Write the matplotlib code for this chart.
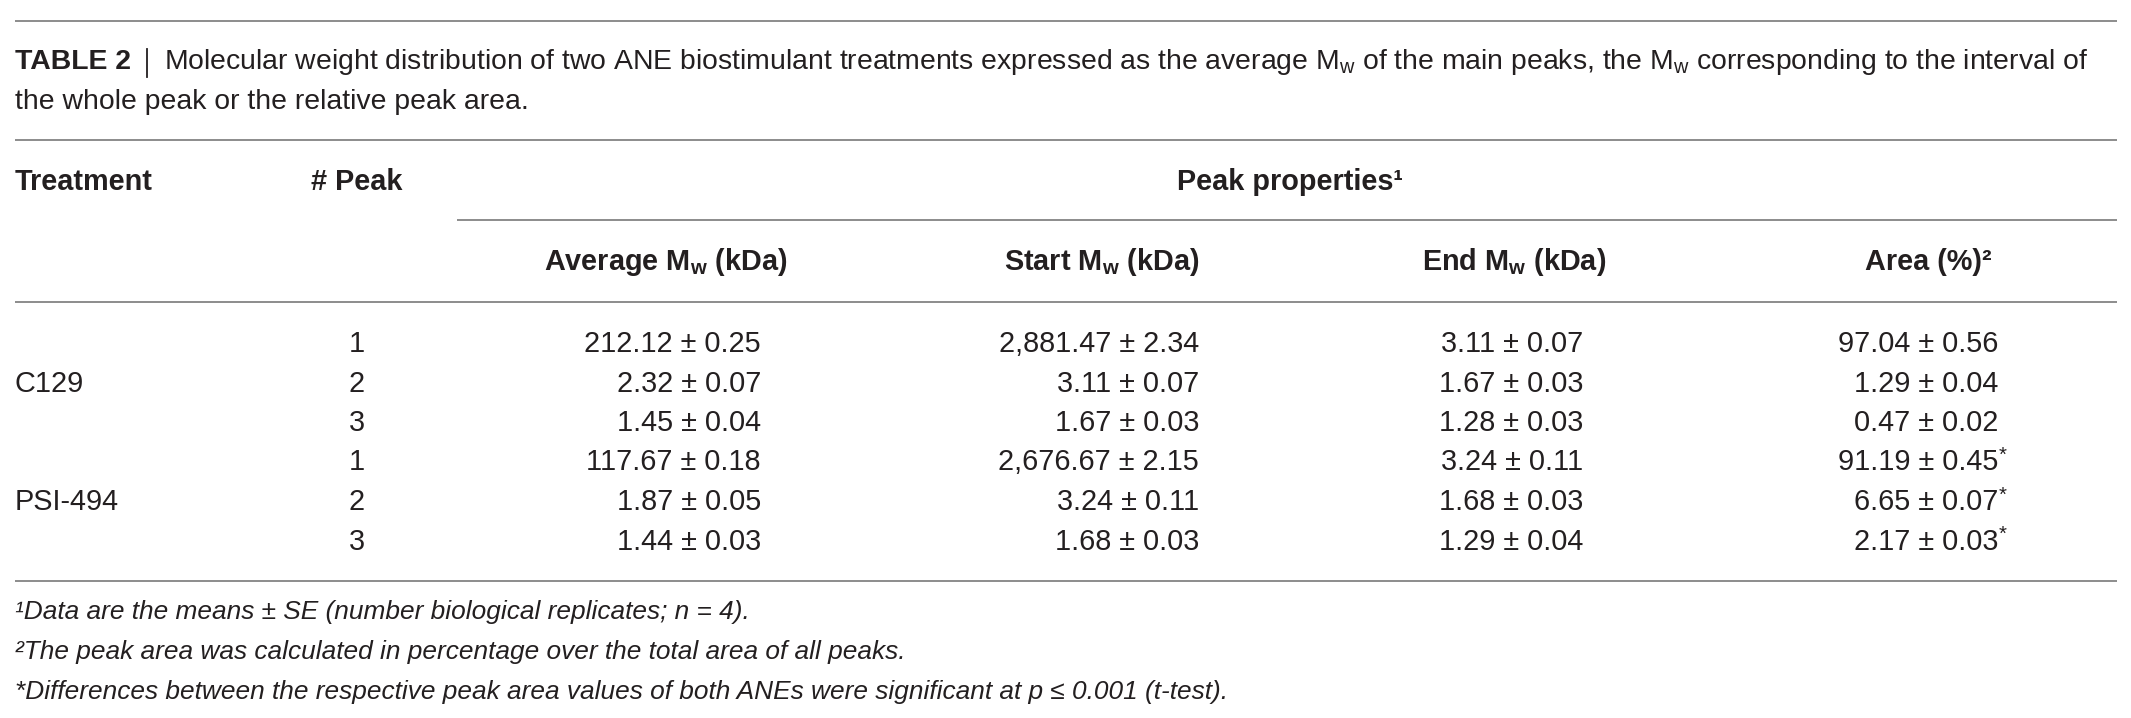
import matplotlib
matplotlib.use("Agg")
import matplotlib.pyplot as plt

plt.rcParams['font.family'] = ['Liberation Sans', 'DejaVu Sans']

# ---- data ----
treatments = ["C129", "PSI-494"]
peak_numbers = [1, 2, 3, 1, 2, 3]
avg_mean = [212.12, 2.32, 1.45, 117.67, 1.87, 1.44]
avg_se = [0.25, 0.07, 0.04, 0.18, 0.05, 0.03]
start_mean = [2881.47, 3.11, 1.67, 2676.67, 3.24, 1.68]
start_se = [2.34, 0.07, 0.03, 2.15, 0.11, 0.03]
end_mean = [3.11, 1.67, 1.28, 3.24, 1.68, 1.29]
end_se = [0.07, 0.03, 0.03, 0.11, 0.03, 0.04]
area_mean = [97.04, 1.29, 0.47, 91.19, 6.65, 2.17]
area_se = [0.56, 0.04, 0.02, 0.45, 0.07, 0.03]
area_sig = [False, False, False, True, True, True]

caption_bold = "TABLE 2"
caption_l1 = r"Molecular weight distribution of two ANE biostimulant treatments expressed as the average M$_\mathregular{w}$ of the main peaks, the M$_\mathregular{w}$ corresponding to the interval of"
caption_l2 = "the whole peak or the relative peak area."
col_headers = [r"Average M$_\mathregular{w}$ (kDa)", r"Start M$_\mathregular{w}$ (kDa)",
               r"End M$_\mathregular{w}$ (kDa)", "Area (%)\u00b2"]
footnotes = ["\u00b9Data are the means \u00b1 SE (number biological replicates; n = 4).",
             "\u00b2The peak area was calculated in percentage over the total area of all peaks.",
             "*Differences between the respective peak area values of both ANEs were significant at p \u2264 0.001 (t-test)."]

TXT = "#231f20"
LINE = "#6e6e6e"

W, H = 2131, 718
fig = plt.figure(figsize=(W / 100, H / 100), dpi=100)
ax = fig.add_axes([0, 0, 1, 1])
ax.set_xlim(0, W)
ax.set_ylim(H, 0)
ax.axis("off")

def hline(y, x0=15, x1=2117):
    ax.plot([x0, x1], [y, y], color=LINE, lw=1.1, solid_capstyle="butt")

CAP = 20.4
HDR = 20.8
DAT = 20.8
FN = 18.9

# lines
hline(21)
hline(140)
hline(220, x0=457)
hline(302)
hline(581)

# caption
t = ax.text(15, 62, caption_bold, fontsize=CAP, fontweight="bold", color=TXT, va="center", ha="left")
fig.canvas.draw()
r = fig.canvas.get_renderer()
bb = t.get_window_extent(r)
xb = bb.x1 + 16
ax.plot([xb, xb], [49, 77], color=TXT, lw=1.3)
ax.text(xb + 17, 62, caption_l1, fontsize=CAP, color=TXT, va="center", ha="left")
ax.text(15, 102, caption_l2, fontsize=CAP, color=TXT, va="center", ha="left")

# headers
ax.text(15, 182, "Treatment", fontsize=HDR, fontweight="bold", color=TXT, va="center", ha="left")
ax.text(357, 182, "# Peak", fontsize=HDR, fontweight="bold", color=TXT, va="center", ha="center")
ax.text(1290, 182, "Peak properties\u00b9", fontsize=HDR, fontweight="bold", color=TXT, va="center", ha="center")
hdr_x = [788, 1199, 1514, 1992]
hdr_ha = ["right", "right", "center", "right"]
for s, x, ha in zip(col_headers, hdr_x, hdr_ha):
    ax.text(x, 262, s, fontsize=HDR, fontweight="bold", color=TXT, va="center", ha=ha)

# rows
row_y0, row_dy = 344, 39.5
for i in range(len(peak_numbers)):
    y = row_y0 + i * row_dy
    ax.text(357, y, str(peak_numbers[i]), fontsize=DAT, color=TXT, va="center", ha="center")
    ax.text(761, y, f"{avg_mean[i]:,.2f} \u00b1 {avg_se[i]:.2f}", fontsize=DAT, color=TXT, va="center", ha="right")
    ax.text(1199, y, f"{start_mean[i]:,.2f} \u00b1 {start_se[i]:.2f}", fontsize=DAT, color=TXT, va="center", ha="right")
    ax.text(1583, y, f"{end_mean[i]:,.2f} \u00b1 {end_se[i]:.2f}", fontsize=DAT, color=TXT, va="center", ha="right")
    ax.text(1998, y, f"{area_mean[i]:,.2f} \u00b1 {area_se[i]:.2f}", fontsize=DAT, color=TXT, va="center", ha="right")
    if area_sig[i]:
        ax.text(1999, y - 7, "*", fontsize=DAT * 0.7, color=TXT, va="center", ha="left")

for j, name in enumerate(treatments):
    y = row_y0 + (3 * j + 1) * row_dy
    ax.text(15, y, name, fontsize=DAT, color=TXT, va="center", ha="left")

# footnotes
for k, s in enumerate(footnotes):
    ax.text(15, 612 + 40 * k, s, fontsize=FN, fontstyle="italic", color=TXT, va="center", ha="left")

fig.savefig("out.png", dpi=100, facecolor="white")
